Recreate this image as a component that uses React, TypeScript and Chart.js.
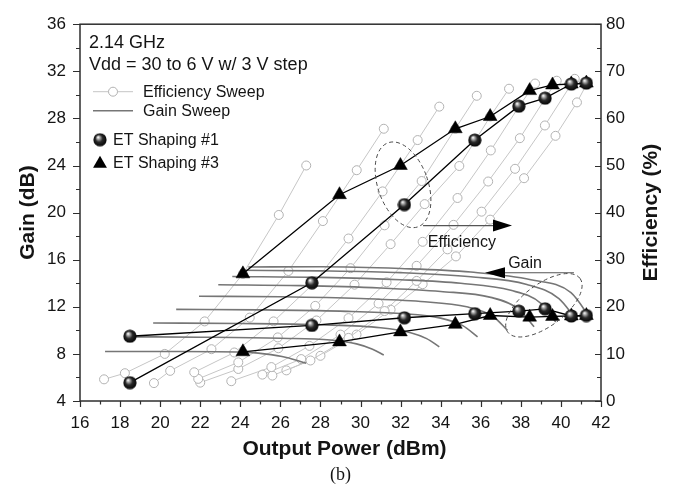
import React, { useEffect, useRef } from "react";
import { Chart, registerables } from "chart.js";

Chart.register(...registerables);

// ---------- data (x = output power dBm, y = gain dB or efficiency %) ----------
const vddLabels = ["6 V", "9 V", "12 V", "15 V", "18 V", "21 V", "24 V", "27 V", "30 V"];

const effSweep6V = [[17.2, 4.6], [18.24, 5.9], [20.23, 10.0], [22.22, 16.9], [24.13, 27.0], [25.92, 39.5], [27.29, 50.0]];
const effSweep9V = [[19.69, 3.8], [20.5, 6.4], [22.56, 11.0], [24.47, 17.7], [26.4, 27.6], [28.12, 38.2], [29.81, 49.0], [31.16, 57.8]];
const effSweep12V = [[21.7, 6.1], [23.7, 10.3], [25.66, 16.9], [27.6, 24.7], [29.4, 34.5], [31.1, 44.5], [32.85, 55.4], [33.93, 62.5]];
const effSweep15V = [[21.9, 4.7], [23.9, 8.2], [25.87, 13.5], [27.74, 20.2], [29.5, 28.2], [31.2, 37.3], [33.05, 46.7], [34.73, 57.8], [35.8, 64.8]];
const effSweep18V = [[22.0, 3.9], [23.9, 6.8], [25.9, 11.2], [27.8, 17.1], [29.7, 24.7], [31.5, 33.3], [33.2, 41.8], [34.93, 49.9], [36.47, 60.4], [37.41, 66.3]];
const effSweep21V = [[23.55, 4.2], [25.55, 7.2], [27.45, 11.7], [29.4, 17.6], [31.3, 25.2], [33.1, 33.8], [34.84, 43.1], [36.5, 53.2], [37.9, 62.5], [38.71, 67.4]];
const effSweep24V = [[25.1, 5.6], [27.04, 8.9], [29.0, 14.1], [30.9, 20.7], [32.8, 28.7], [34.64, 37.4], [36.37, 46.6], [37.95, 55.8], [39.21, 64.2], [39.79, 68.0]];
const effSweep27V = [[25.6, 5.4], [27.5, 8.6], [29.4, 13.4], [31.2, 19.1], [32.8, 25.5], [34.34, 32.2], [36.04, 40.2], [37.71, 49.3], [39.2, 58.5], [40.69, 68.4]];
const effSweep30V = [[26.3, 6.5], [28.0, 9.6], [29.8, 14.1], [31.5, 19.4], [33.1, 24.8], [34.76, 30.7], [36.47, 38.5], [38.16, 47.3], [39.73, 56.3], [40.8, 63.4], [41.3, 67.4]];

const gainSweep6V = [[17.25, 8.2], [21, 8.2], [24.13, 8.15], [25.2, 8.0], [26.3, 7.7], [27.29, 7.2]];
const gainSweep9V = [[18.5, 9.45], [22, 9.42], [26, 9.33], [28.5, 9.18], [29.8, 8.85], [30.6, 8.4], [31.16, 7.9]];
const gainSweep12V = [[19.65, 10.62], [24, 10.58], [28, 10.47], [31, 10.22], [32.5, 9.8], [33.3, 9.3], [33.93, 8.6]];
const gainSweep15V = [[20.8, 11.78], [25, 11.74], [29, 11.63], [32, 11.43], [34, 11.04], [35.1, 10.4], [35.84, 9.45]];
const gainSweep18V = [[21.94, 12.9], [26, 12.85], [30, 12.7], [33, 12.45], [35.3, 12.0], [36.6, 11.2], [37.33, 10.0]];
const gainSweep21V = [[22.9, 13.87], [27, 13.8], [31, 13.6], [34, 13.3], [36.5, 12.8], [37.9, 11.8], [38.66, 10.3]];
const gainSweep24V = [[23.6, 14.57], [28, 14.5], [32, 14.3], [35, 14.0], [37.5, 13.4], [39.0, 12.3], [39.74, 10.7]];
const gainSweep27V = [[24.0, 15.1], [28, 15.05], [32, 14.9], [35.5, 14.55], [38.3, 13.9], [39.9, 12.7], [40.73, 11.0]];
const gainSweep30V = [[24.4, 15.38], [28, 15.4], [32, 15.25], [35.5, 14.95], [38.5, 14.3], [40.5, 13.2], [41.48, 11.0]];

const et1Eff = [[18.49, 3.9], [27.57, 25.1], [32.19, 41.7], [35.7, 55.4], [37.9, 62.6], [39.21, 64.3], [40.52, 67.3], [41.27, 67.5]];
const et1Gain = [[18.49, 9.5], [27.57, 10.42], [32.19, 11.07], [35.7, 11.42], [37.9, 11.63], [39.21, 11.83], [40.52, 11.22], [41.27, 11.26]];
const et3Eff = [[24.13, 27.0], [28.95, 43.8], [31.99, 50.0], [34.73, 57.8], [36.47, 60.4], [38.44, 65.9], [39.58, 67.1], [40.52, 67.3], [41.27, 67.5]];
const et3Gain = [[24.13, 8.18], [28.95, 9.02], [31.99, 9.87], [34.73, 10.51], [36.47, 11.26], [38.44, 11.12], [39.58, 11.18], [40.52, 11.22], [41.27, 11.26]];

const effSweeps = [effSweep6V, effSweep9V, effSweep12V, effSweep15V, effSweep18V, effSweep21V, effSweep24V, effSweep27V, effSweep30V];
const gainSweeps = [gainSweep6V, gainSweep9V, gainSweep12V, gainSweep15V, gainSweep18V, gainSweep21V, gainSweep24V, gainSweep27V, gainSweep30V];

const xTicks = { min: 16, max: 42, step: 2 };
const gainTicks = { min: 4, max: 36, step: 4 };
const effTicks = { min: 0, max: 80, step: 10 };

// ---------- styles ----------
const FONT = 'Arial, "Liberation Sans", Helvetica, sans-serif';
const SERIF = '"Times New Roman", "Liberation Serif", serif';
const TEXT = "#141414";
const AXIS = "#2e2e2e";
const EFF_LINE = "#c6c6c6";
const EFF_MARK = "#b2b2b2";
const GAIN_LINE = "#767676";

const toXY = (arr: number[][]) => arr.map(([x, y]) => ({ x, y }));

function makeSphere(d: number): HTMLCanvasElement {
  const c = document.createElement("canvas");
  c.width = d;
  c.height = d;
  const g = c.getContext("2d")!;
  const r = d / 2;
  const grad = g.createRadialGradient(r * 0.72, r * 0.62, 0.3, r, r, r);
  grad.addColorStop(0, "#ffffff");
  grad.addColorStop(0.16, "#b8b8b8");
  grad.addColorStop(0.5, "#2a2a2a");
  grad.addColorStop(1, "#000000");
  g.fillStyle = grad;
  g.beginPath();
  g.arc(r, r, r - 0.4, 0, Math.PI * 2);
  g.fill();
  return c;
}

function drawTriangle(ctx: CanvasRenderingContext2D, x: number, y: number, r: number) {
  ctx.beginPath();
  ctx.moveTo(x, y - r);
  ctx.lineTo(x + Math.sin((2 * Math.PI) / 3) * r, y + r / 2);
  ctx.lineTo(x - Math.sin((2 * Math.PI) / 3) * r, y + r / 2);
  ctx.closePath();
  ctx.fillStyle = "#000";
  ctx.fill();
}

export default function App() {
  const ref = useRef<HTMLCanvasElement | null>(null);

  useEffect(() => {
    document.body.style.margin = "0";
    const canvas = ref.current!;
    const sphere = makeSphere(14);

    const decor = {
      id: "decor",
      afterDraw(chart: any) {
        const { ctx, chartArea: a, scales } = chart;
        const sx = scales.x;
        const sy = scales.y;
        const sy1 = scales.y1;
        ctx.save();

        // frame
        ctx.strokeStyle = AXIS;
        ctx.lineWidth = 1.5;
        ctx.strokeRect(a.left, a.top, a.right - a.left, a.bottom - a.top);

        // tick marks
        ctx.lineWidth = 1.2;
        ctx.beginPath();
        for (let v = xTicks.min; v <= xTicks.max; v += 1) {
          const px = Math.round(sx.getPixelForValue(v)) + 0.5;
          const len = (v - xTicks.min) % xTicks.step === 0 ? 6 : 3.5;
          ctx.moveTo(px, a.bottom);
          ctx.lineTo(px, a.bottom + len);
        }
        for (let v = gainTicks.min; v <= gainTicks.max; v += gainTicks.step / 2) {
          const py = Math.round(sy.getPixelForValue(v)) + 0.5;
          const len = (v - gainTicks.min) % gainTicks.step === 0 ? 7 : 4;
          ctx.moveTo(a.left - len, py);
          ctx.lineTo(a.left, py);
        }
        for (let v = effTicks.min; v <= effTicks.max; v += effTicks.step / 2) {
          const py = Math.round(sy1.getPixelForValue(v)) + 0.5;
          const len = v % effTicks.step === 0 ? 6 : 4;
          ctx.moveTo(a.right - len, py);
          ctx.lineTo(a.right, py);
        }
        ctx.stroke();

        // axis titles
        ctx.fillStyle = TEXT;
        ctx.font = `bold 21px ${FONT}`;
        ctx.textAlign = "center";
        ctx.textBaseline = "middle";
        ctx.fillText("Output Power (dBm)", (a.left + a.right) / 2 + 4, a.bottom + 48);
        ctx.save();
        ctx.translate(a.left - 52, (a.top + a.bottom) / 2);
        ctx.rotate(-Math.PI / 2);
        ctx.fillText("Gain (dB)", 0, 0);
        ctx.restore();
        ctx.save();
        ctx.translate(a.right + 50, (a.top + a.bottom) / 2);
        ctx.rotate(-Math.PI / 2);
        ctx.fillText("Efficiency (%)", 0, 0);
        ctx.restore();
        ctx.font = `18px ${SERIF}`;
        ctx.fillText("(b)", (a.left + a.right) / 2, a.bottom + 74);

        // info text
        ctx.textAlign = "left";
        ctx.textBaseline = "alphabetic";
        ctx.font = `18px ${FONT}`;
        ctx.fillText("2.14 GHz", a.left + 9, a.top + 24);
        ctx.fillText("Vdd = 30 to 6 V w/ 3 V step", a.left + 9, a.top + 45.5);

        // legend
        ctx.font = `16px ${FONT}`;
        const rows = [a.top + 67.5, a.top + 86.5, a.top + 115.5, a.top + 138.5];
        ctx.strokeStyle = EFF_LINE;
        ctx.lineWidth = 1;
        ctx.beginPath();
        ctx.moveTo(a.left + 13, rows[0]);
        ctx.lineTo(a.left + 53, rows[0]);
        ctx.stroke();
        ctx.beginPath();
        ctx.arc(a.left + 33, rows[0], 4.5, 0, Math.PI * 2);
        ctx.fillStyle = "#fff";
        ctx.fill();
        ctx.strokeStyle = EFF_MARK;
        ctx.stroke();
        ctx.strokeStyle = GAIN_LINE;
        ctx.lineWidth = 1.6;
        ctx.beginPath();
        ctx.moveTo(a.left + 13, rows[1]);
        ctx.lineTo(a.left + 53, rows[1]);
        ctx.stroke();
        ctx.drawImage(sphere, a.left + 20 - 7, rows[2] - 7);
        drawTriangle(ctx, a.left + 20, rows[3] + 1, 8);
        ctx.fillStyle = TEXT;
        ctx.fillText("Efficiency Sweep", a.left + 63, rows[0] + 5.7);
        ctx.fillText("Gain Sweep", a.left + 63, rows[1] + 5.7);
        ctx.fillText("ET Shaping #1", a.left + 33, rows[2] + 5.7);
        ctx.fillText("ET Shaping #3", a.left + 33, rows[3] + 5.7);

        // efficiency annotation
        const X = (v: number) => sx.getPixelForValue(v);
        const G = (v: number) => sy.getPixelForValue(v);
        ctx.setLineDash([4, 3]);
        ctx.strokeStyle = "#4a4a4a";
        ctx.lineWidth = 1;
        ctx.beginPath();
        ctx.ellipse(X(32.12), G(22.36), 25, 44.6, -0.34, 0, Math.PI * 2);
        ctx.stroke();
        ctx.beginPath();
        ctx.ellipse(X(39.15), G(12.13), 45, 21, -0.64, 0, Math.PI * 2);
        ctx.stroke();
        ctx.setLineDash([]);

        ctx.strokeStyle = "#555";
        ctx.lineWidth = 1.2;
        const ey = G(18.9);
        const etip = X(37.56);
        ctx.beginPath();
        ctx.moveTo(X(33.12), ey);
        ctx.lineTo(etip - 18, ey);
        ctx.stroke();
        ctx.fillStyle = "#000";
        ctx.beginPath();
        ctx.moveTo(etip, ey);
        ctx.lineTo(etip - 19, ey - 6);
        ctx.lineTo(etip - 19, ey + 6);
        ctx.closePath();
        ctx.fill();

        const gy = G(14.89);
        const gtip = X(36.21);
        ctx.beginPath();
        ctx.moveTo(X(40.65), gy);
        ctx.lineTo(gtip + 18, gy);
        ctx.stroke();
        ctx.beginPath();
        ctx.moveTo(gtip, gy);
        ctx.lineTo(gtip + 20, gy - 5.5);
        ctx.lineTo(gtip + 20, gy + 5.5);
        ctx.closePath();
        ctx.fill();

        ctx.fillStyle = TEXT;
        ctx.font = `16px ${FONT}`;
        ctx.textAlign = "center";
        ctx.textBaseline = "middle";
        ctx.fillText("Efficiency", X(35.06), G(17.47));
        ctx.fillText("Gain", X(38.21), G(15.66));

        ctx.restore();
      },
    };

    const etBase = { showLine: true, borderColor: "#000", borderWidth: 1.3, tension: 0 };
    const datasets: any[] = [
      { ...etBase, label: "ET Shaping #1 Eff", data: toXY(et1Eff), yAxisID: "y1", pointStyle: sphere },
      { ...etBase, label: "ET Shaping #1 Gain", data: toXY(et1Gain), yAxisID: "y", pointStyle: sphere },
      { ...etBase, label: "ET Shaping #3 Eff", data: toXY(et3Eff), yAxisID: "y1", pointStyle: "triangle", pointRadius: 8, pointBackgroundColor: "#000", pointBorderColor: "#000", pointBorderWidth: 0.5 },
      { ...etBase, label: "ET Shaping #3 Gain", data: toXY(et3Gain), yAxisID: "y", pointStyle: "triangle", pointRadius: 8, pointBackgroundColor: "#000", pointBorderColor: "#000", pointBorderWidth: 0.5 },
      ...gainSweeps.map((d, i) => ({
        label: `Gain Sweep ${vddLabels[i]}`,
        data: toXY(d),
        yAxisID: "y",
        showLine: true,
        borderColor: GAIN_LINE,
        borderWidth: 1.6,
        pointRadius: 0,
        cubicInterpolationMode: "monotone",
      })),
      ...effSweeps.map((d, i) => ({
        label: `Efficiency Sweep ${vddLabels[i]}`,
        data: toXY(d),
        yAxisID: "y1",
        showLine: true,
        borderColor: EFF_LINE,
        borderWidth: 1,
        pointRadius: 4.5,
        pointStyle: "circle",
        pointBackgroundColor: "#fff",
        pointBorderColor: EFF_MARK,
        pointBorderWidth: 1,
        tension: 0,
      })),
    ];

    const tickFont = { size: 17, family: FONT };
    const chart = new Chart(canvas, {
      type: "scatter",
      data: { datasets },
      options: {
        animation: false,
        responsive: false,
        maintainAspectRatio: false,
        devicePixelRatio: 1,
        layout: { padding: { top: 21, left: 0, right: 0, bottom: 0 } },
        plugins: { legend: { display: false }, tooltip: { enabled: false } },
        scales: {
          x: {
            type: "linear",
            position: "bottom",
            min: xTicks.min,
            max: xTicks.max,
            ticks: { stepSize: xTicks.step, font: tickFont, color: TEXT, padding: 12, maxRotation: 0, autoSkip: false },
            grid: { display: false, drawTicks: false },
            border: { display: false },
            afterFit: (s: any) => { s.height = 88; },
          },
          y: {
            type: "linear",
            position: "left",
            min: gainTicks.min,
            max: gainTicks.max,
            ticks: { stepSize: gainTicks.step, font: tickFont, color: TEXT, padding: 14 },
            grid: { display: false, drawTicks: false },
            border: { display: false },
            afterFit: (s: any) => { s.width = 80; },
          },
          y1: {
            type: "linear",
            position: "right",
            min: effTicks.min,
            max: effTicks.max,
            ticks: { stepSize: effTicks.step, font: tickFont, color: TEXT, padding: 5 },
            grid: { display: false, drawTicks: false },
            border: { display: false },
            afterFit: (s: any) => { s.width = 72; },
          },
        },
      } as any,
      plugins: [decor],
    });
    return () => chart.destroy();
  }, []);

  return (
    <div style={{ width: 673, height: 489, background: "#fff" }}>
      <canvas ref={ref} width={673} height={489} style={{ display: "block", width: 673, height: 489 }} />
    </div>
  );
}
